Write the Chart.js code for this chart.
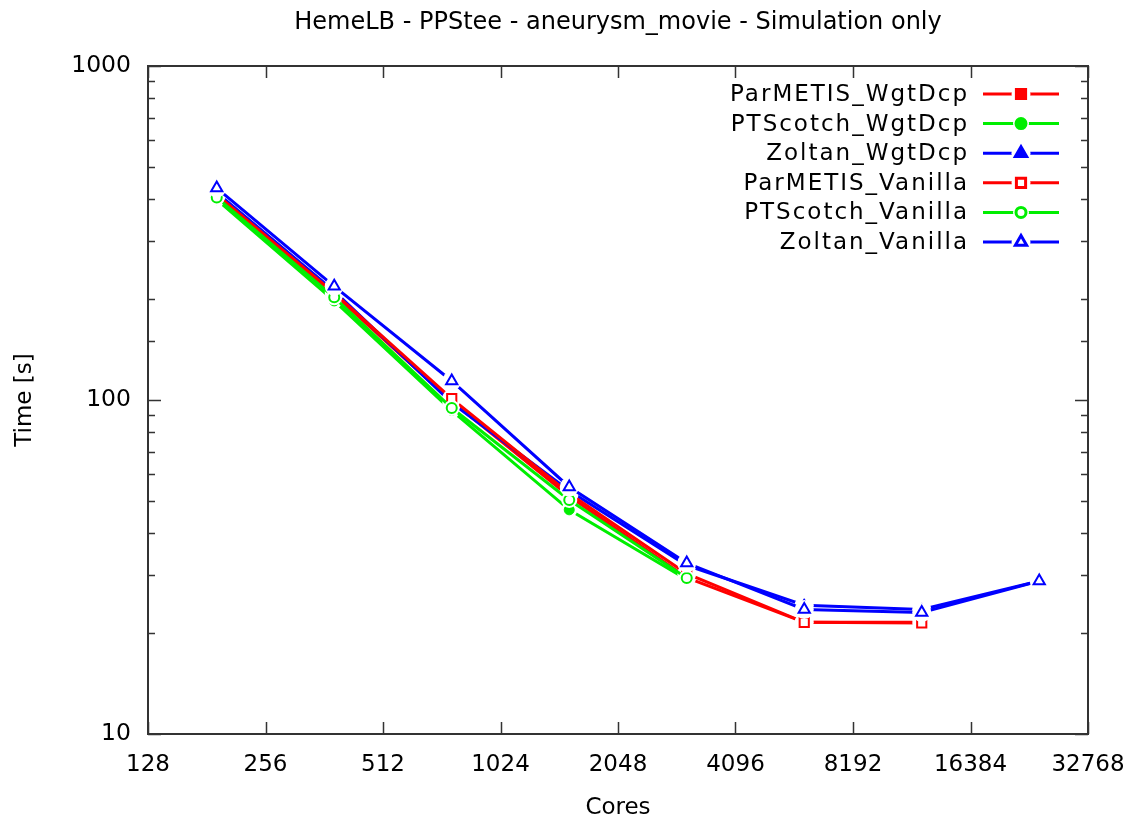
<!DOCTYPE html>
<html>
<head>
<meta charset="utf-8">
<script src="https://cdn.jsdelivr.net/npm/chart.js@4/dist/chart.umd.min.js"></script>
<style>
  html, body { margin: 0; padding: 0; background: #fff; }
  #wrap { width: 1137px; height: 822px; }
</style>
</head>
<body>
<div id="wrap"><canvas id="scaling-plot"></canvas></div>
<script>
// HemeLB strong scaling, simulation time per decomposition

// x: cores, y: seconds
const cores = [192, 384, 768, 1536, 3072, 6144, 12288, 24576];
const xTicks = [128, 256, 512, 1024, 2048, 4096, 8192, 16384, 32768];
const yTickLabels = [10, 100, 1000];
const plotTitle = 'HemeLB - PPStee - aneurysm_movie - Simulation only';

const parmetisWgt = [410, 207, 99, 51.5, 29.4, 21.6, 21.6];
const ptscotchWgt = [398, 198, 93, 46.9, 29.0];
const zoltanWgt   = [418, 212, 98, 53.5, 32.0, 24.3, 23.6, 28.7];
const parmetisVan = [412, 209, 101, 52.5, 30.2, 21.6, 21.5];
const ptscotchVan = [404, 203, 94.6, 50.2, 29.3];
const zoltanVan   = [431, 219, 114, 54.9, 32.5, 23.6, 23.1, 28.7];

const RED = '#ff0000', GREEN = '#00ee00', BLUE = '#0000ff';

function toPoints(vals) {
    // pair each value with its core count
    return vals.map((v, i) => ({x: cores[i], y: v}));
}

function series(label, vals, color, style, open, i) {
    let r = style === 'circle' ? 5 : 6.5;
    return {
        label: label,
        data: toPoints(vals),
        borderColor: color,
        backgroundColor: color,
        borderWidth: 3,
        pointStyle: style,
        pointRadius: r,
        pointHoverRadius: r,
        pointBackgroundColor: open ? '#ffffff' : color,
        pointBorderColor: color,
        pointBorderWidth: open ? 2 : 1,
        tension: 0,
        order: 5 - i
    };
}

const datasets = [
    series('ParMETIS_WgtDcp', parmetisWgt, RED, 'rect', false, 0),
    series('PTScotch_WgtDcp', ptscotchWgt, GREEN, 'circle', false, 1),
    series('Zoltan_WgtDcp', zoltanWgt, BLUE, 'triangle', false, 2),
    series('ParMETIS_Vanilla', parmetisVan, RED, 'rect', true, 3),
    series('PTScotch_Vanilla', ptscotchVan, GREEN, 'circle', true, 4),
    series('Zoltan_Vanilla', zoltanVan, BLUE, 'triangle', true, 5)
];

// white gap around each marker, like gnuplot linespoints
const markerHalo = {
    id: 'markerHalo',
    afterDatasetDraw(chart, args) {
        const ctx = chart.ctx;
        ctx.save();
        ctx.fillStyle = '#ffffff';
        args.meta.data.forEach(pt => {
            ctx.beginPath();
            ctx.arc(pt.x, pt.y, pt.options.radius + 3, 0, Math.PI * 2);
            ctx.fill();
        });
        args.meta.data.forEach(pt => pt.draw(ctx, chart.chartArea));
        ctx.restore();
    }
};

// box frame plus inward ticks on all four sides
const frameTicks = {
    id: 'frameTicks',
    afterDatasetsDraw(chart) {
        const {ctx, chartArea: a, scales} = chart;
        ctx.save();
        ctx.strokeStyle = '#333333';
        ctx.lineWidth = 1.5;
        ctx.beginPath();
        scales.x.ticks.forEach(t => {
            let px = Math.round(scales.x.getPixelForValue(t.value)) + 0.5;
            ctx.moveTo(px, a.bottom); ctx.lineTo(px, a.bottom - 12);
            ctx.moveTo(px, a.top); ctx.lineTo(px, a.top + 12);
        });
        scales.y.ticks.forEach(t => {
            let py = Math.round(scales.y.getPixelForValue(t.value)) + 0.5;
            let len = yTickLabels.includes(t.value) ? 13 : 7;
            ctx.moveTo(a.left, py); ctx.lineTo(a.left + len, py);
            ctx.moveTo(a.right, py); ctx.lineTo(a.right - len, py);
        });
        ctx.stroke();
        ctx.lineWidth = 2;
        ctx.strokeRect(a.left, a.top, a.right - a.left, a.bottom - a.top);
        ctx.restore();
    }
};

// title centred over the plot box, key in the top right corner
const keyBox = {
    id: 'keyBox',
    afterDraw(chart) {
        const ctx = chart.ctx;
        const a = chart.chartArea;
        ctx.save();
        ctx.fillStyle = '#000000';
        ctx.font = '24px "DejaVu Sans"';
        ctx.textAlign = 'center';
        ctx.textBaseline = 'middle';
        ctx.fillText(plotTitle, (a.left + a.right) / 2, 23);

        ctx.font = '23px "DejaVu Sans"';
        ctx.letterSpacing = '2px';
        ctx.textAlign = 'right';
        chart.data.datasets.forEach((ds, i) => {
            let y = 94 + i * 29.6;
            ctx.fillStyle = '#000000';
            ctx.fillText(ds.label, 969, y + 1);
            ctx.strokeStyle = ds.borderColor;
            ctx.lineWidth = 3;
            ctx.beginPath();
            ctx.moveTo(983, y); ctx.lineTo(1059, y);
            ctx.stroke();
            ctx.fillStyle = '#ffffff';
            ctx.beginPath();
            ctx.arc(1021, y, ds.pointRadius + 3, 0, Math.PI * 2);
            ctx.fill();
            ctx.fillStyle = ds.pointBackgroundColor;
            ctx.strokeStyle = ds.pointBorderColor;
            Chart.helpers.drawPoint(ctx, {
                pointStyle: ds.pointStyle,
                radius: ds.pointRadius,
                rotation: 0,
                borderWidth: ds.pointBorderWidth
            }, 1021, y);
        });
        ctx.restore();
    }
};

const config = {
    type: 'line',
    data: {datasets: datasets},
    options: {
        responsive: true,
        maintainAspectRatio: false,
        animation: false,
        layout: {padding: {left: 0, right: 49, top: 66, bottom: 0}},
        plugins: {
            legend: {display: false},
            tooltip: {enabled: false},
            title: {display: false}
        },
        scales: {
            x: {
                type: 'logarithmic',
                min: 128,
                max: 32768,
                afterBuildTicks: scale => { scale.ticks = xTicks.map(v => ({value: v})); },
                afterFit: scale => {
                    scale.height = 88;
                    scale.paddingLeft = 0;
                    scale.paddingRight = 0;
                },
                grid: {display: false, drawTicks: false},
                border: {display: false},
                ticks: {
                    color: '#000000',
                    font: {family: 'DejaVu Sans', size: 23},
                    padding: 17,
                    maxRotation: 0,
                    autoSkip: false,
                    callback: v => String(v)
                },
                title: {
                    display: true,
                    text: 'Cores',
                    color: '#000000',
                    font: {family: 'DejaVu Sans', size: 23},
                    padding: {top: 0, bottom: 0}
                }
            },
            y: {
                type: 'logarithmic',
                min: 10,
                max: 1000,
                afterFit: scale => {
                    scale.width = 148;
                    scale.paddingTop = 0;
                    scale.paddingBottom = 0;
                },
                grid: {display: false, drawTicks: false},
                border: {display: false},
                ticks: {
                    color: '#000000',
                    font: {family: 'DejaVu Sans', size: 23.5},
                    padding: 17,
                    autoSkip: false,
                    callback: v => yTickLabels.includes(v) ? String(v) : ''
                },
                title: {
                    display: true,
                    text: 'Time [s]',
                    color: '#000000',
                    font: {family: 'DejaVu Sans', size: 23},
                    padding: {top: 11, bottom: 0}
                }
            }
        }
    },
    plugins: [markerHalo, frameTicks, keyBox]
};

const scalingChart = new Chart(document.getElementById('scaling-plot'), config);
</script>
</body>
</html>
